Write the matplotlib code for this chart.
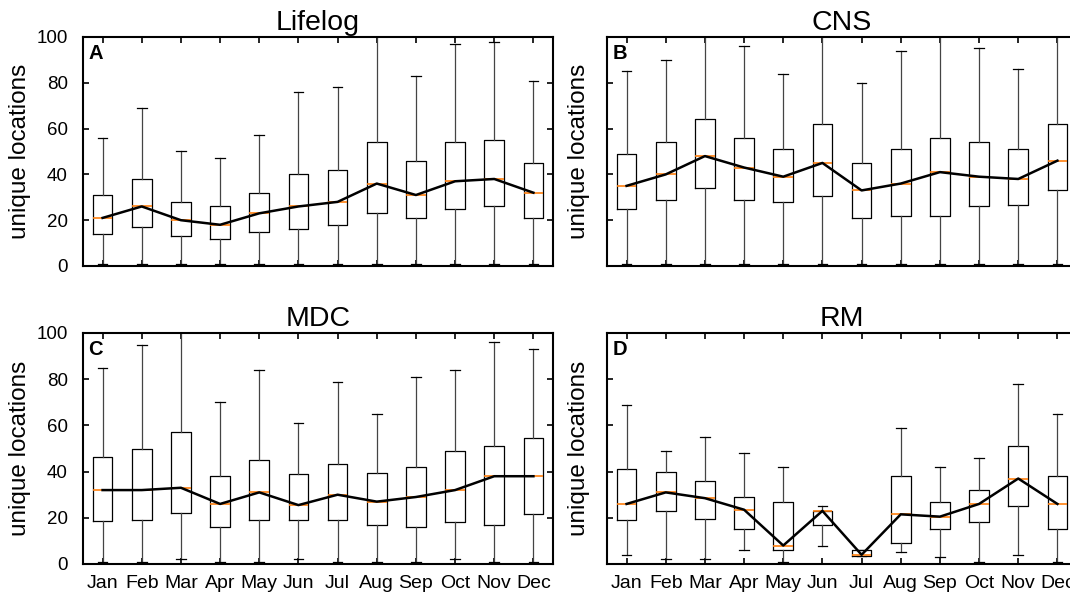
import matplotlib
matplotlib.use("Agg")
import matplotlib.pyplot as plt

plt.rcParams['font.family'] = ['Liberation Sans', 'DejaVu Sans']

months = ["Jan", "Feb", "Mar", "Apr", "May", "Jun", "Jul", "Aug", "Sep", "Oct", "Nov", "Dec"]
titles = ["Lifelog", "CNS", "MDC", "RM"]
letters = ["A", "B", "C", "D"]

# Lifelog
lifelog_low = [1, 1, 1, 1, 1, 1, 1, 1, 1, 1, 1, 1]
lifelog_q1 = [14, 17, 13, 12, 15, 16, 18, 23, 21, 25, 26, 21]
lifelog_med = [21, 26, 20, 18, 23, 26, 28, 36, 31, 37, 38, 32]
lifelog_q3 = [31, 38, 28, 26, 32, 40, 42, 54, 46, 54, 55, 45]
lifelog_high = [56, 69, 50, 47, 57, 76, 78, 105, 83, 97, 98, 81]

# CNS
cns_low = [1, 1, 1, 1, 1, 1, 1, 1, 1, 1, 1, 1]
cns_q1 = [25, 29, 34, 29, 28, 30.5, 21, 22, 22, 26, 26.5, 33]
cns_med = [35, 40, 48, 43, 39, 45, 33, 36, 41, 39, 38, 46]
cns_q3 = [49, 54, 64, 56, 51, 62, 45, 51, 56, 54, 51, 62]
cns_high = [85, 90, 105, 96, 84, 105, 80, 94, 105, 95, 86, 105]

# MDC
mdc_low = [1, 1, 2, 1, 1, 2, 1, 1, 1, 2, 1, 1]
mdc_q1 = [18.5, 19, 22, 16, 19, 19, 19, 17, 16, 18, 17, 21.5]
mdc_med = [32, 32, 33, 26, 31, 25.5, 30, 27, 29, 32, 38, 38]
mdc_q3 = [46.5, 50, 57, 38, 45, 39, 43.5, 39.5, 42, 49, 51, 54.5]
mdc_high = [85, 95, 105, 70, 84, 61, 79, 65, 81, 84, 96, 93]

# RM
rm_low = [4, 2, 2, 6, 1, 8, 3.5, 5, 3, 1, 4, 1]
rm_q1 = [19, 23, 19.5, 15, 6, 17, 3.5, 9, 15, 18, 25, 15]
rm_med = [26, 31, 28.5, 23.5, 8, 23, 4, 21.5, 20.5, 26, 37, 26]
rm_q3 = [41, 40, 36, 29, 27, 23, 6, 38, 27, 32, 51, 38]
rm_high = [69, 49, 55, 48, 42, 25, 6, 59, 42, 46, 78, 65]

datasets = [
    (lifelog_low, lifelog_q1, lifelog_med, lifelog_q3, lifelog_high),
    (cns_low, cns_q1, cns_med, cns_q3, cns_high),
    (mdc_low, mdc_q1, mdc_med, mdc_q3, mdc_high),
    (rm_low, rm_q1, rm_med, rm_q3, rm_high),
]

W, H = 1070, 598
fig = plt.figure(figsize=(W / 100, H / 100), dpi=100)

lefts = [83, 607, 83, 607]
rights = [553, 1077, 553, 1077]
tops = [37, 37, 333, 333]
bottoms = [266, 266, 564, 564]

positions = list(range(1, 13))

for i in range(4):
    l, r, t, b = lefts[i], rights[i], tops[i], bottoms[i]
    ax = fig.add_axes([l / W, 1 - b / H, (r - l) / W, (b - t) / H])
    low, q1, med, q3, high = datasets[i]
    stats = []
    for j in range(12):
        stats.append(dict(whislo=low[j], q1=q1[j], med=med[j], q3=q3[j],
                          whishi=high[j], fliers=[]))
    ax.bxp(stats, positions=positions, widths=0.5, showfliers=False,
           boxprops=dict(color='black', linewidth=0.9),
           whiskerprops=dict(color='#444444', linewidth=0.9),
           capprops=dict(color='black', linewidth=0.9),
           medianprops=dict(color='#ff7f0e', linewidth=1.2))
    ax.plot(positions, med, color='black', linewidth=1.8, zorder=5)
    ax.set_xlim(0.5, 12.5)
    ax.set_ylim(0, 100)
    ax.set_yticks([0, 20, 40, 60, 80, 100])
    ax.set_xticks(positions)
    ax.tick_params(direction='in', top=True, right=True, length=4, width=1.2,
                   labelsize=13.5)
    ax.tick_params(axis='y', pad=11)
    for sp in ax.spines.values():
        sp.set_linewidth(1.5)
    if i < 2:
        ax.set_xticklabels([])
    else:
        ax.set_xticklabels(months)
        ax.tick_params(axis='x', pad=8, labelsize=14)
    if i % 2 == 1:
        ax.set_yticklabels([])
    ax.set_ylabel("unique locations", fontsize=17.5, labelpad=3.5 if i % 2 == 0 else 1)
    ax.set_title(titles[i], fontsize=20.5, pad=5)
    ax.text(0.011, 0.97, letters[i], transform=ax.transAxes, ha='left', va='top',
            fontsize=14.5, fontweight='bold')

fig.savefig("out.png", dpi=100)
